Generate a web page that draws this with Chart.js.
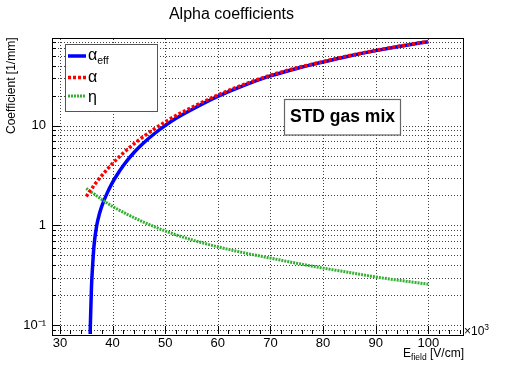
<!DOCTYPE html>
<html>
<head>
<meta charset="utf-8">
<script src="https://cdn.jsdelivr.net/npm/chart.js@4.4.1/dist/chart.umd.min.js"></script>
<style>
html,body{margin:0;padding:0;background:#fff;}
#wrap{position:relative;width:515px;height:372px;}
</style>
</head>
<body>
<div id="wrap"><canvas id="c" width="515" height="372"></canvas></div>
<script>
// ---- data ----
const efield   = [35, 35.5, 35.65, 35.75, 35.85, 36, 36.25, 36.5, 37, 37.5, 38, 39, 40, 41, 42, 43, 44, 45, 46, 48, 50, 52, 55, 60, 65, 70, 75, 80, 85, 90, 95, 100];
const alphaEff = [null, null, 0.03, 0.08, 0.13, 0.24, 0.42, 0.64, 1.0, 1.3, 1.58, 2.12, 2.7, 3.3, 3.94, 4.62, 5.33, 6.05, 6.8, 8.36, 10.02, 11.8, 14.48, 19.69, 25.47, 31.63, 37.58, 43.63, 50.16, 56.7, 63.22, 69.74];
const alpha    = [1.95, 2.13, 2.19, 2.22, 2.26, 2.32, 2.42, 2.53, 2.74, 2.96, 3.18, 3.66, 4.18, 4.72, 5.3, 5.9, 6.53, 7.18, 7.87, 9.33, 10.9, 12.6, 15.2, 20.3, 26.0, 32.1, 38.0, 44.0, 50.5, 57.0, 63.5, 70.0];
const eta      = [2.35, 2.25, 2.22, 2.2, 2.18, 2.15, 2.11, 2.07, 1.98, 1.895, 1.815, 1.675, 1.55, 1.449, 1.358, 1.276, 1.202, 1.135, 1.074, 0.968, 0.879, 0.807, 0.719, 0.61, 0.531, 0.47, 0.417, 0.373, 0.337, 0.304, 0.279, 0.257];
const xTicks = [30, 40, 50, 60, 70, 80, 90, 100];
const xMinorTicks = [28, 32, 34, 36, 38, 42, 44, 46, 48, 52, 54, 56, 58, 62, 64, 66, 68, 72, 74, 76, 78, 82, 84, 86, 88, 92, 94, 96, 98, 102, 104, 106];
const yTicks = [0.09, 0.1, 0.2, 0.3, 0.4, 0.5, 0.6, 0.7, 0.8, 0.9, 1, 2, 3, 4, 5, 6, 7, 8, 9, 10, 20, 30, 40, 50, 60, 70];
const yMajor = [0.1, 1, 10];
const yLabels = {'0.1': '10\u207B\u00B9', '1': '1', '10': '10'};

const FONT = "'Liberation Sans', Arial, Helvetica, sans-serif";
Chart.defaults.font.family = FONT;
Chart.defaults.color = '#000';

function pts(ys) {
  const out = [];
  for (let i = 0; i < efield.length; i++) if (ys[i] !== null) out.push({x: efield[i], y: ys[i]});
  return out;
}

const decor = {
  id: 'decor',
  beforeDatasetsDraw(chart) {
    const ctx = chart.ctx, a = chart.chartArea;
    const xs = chart.scales.x, ys = chart.scales.y;
    ctx.save();
    ctx.strokeStyle = 'rgba(0,0,0,0.75)';
    ctx.lineWidth = 1;
    ctx.setLineDash([1, 2]);
    ctx.beginPath();
    xTicks.forEach(v => { const p = Math.round(xs.getPixelForValue(v)) + 0.5; ctx.moveTo(p, a.bottom); ctx.lineTo(p, a.top); });
    yTicks.forEach(v => { const p = Math.round(ys.getPixelForValue(v)) + 0.5; ctx.moveTo(a.left, p); ctx.lineTo(a.right, p); });
    ctx.stroke();
    ctx.restore();
  },
  afterDatasetsDraw(chart) {
    const ctx = chart.ctx, a = chart.chartArea;
    const xs = chart.scales.x, ys = chart.scales.y;
    ctx.save();
    ctx.strokeStyle = '#000';
    ctx.lineWidth = 1;
    ctx.beginPath();
    xTicks.forEach(v => { const p = Math.round(xs.getPixelForValue(v)) + 0.5; ctx.moveTo(p, a.bottom); ctx.lineTo(p, a.bottom - 8); });
    xMinorTicks.forEach(v => { if (v < xs.min || v > xs.max) return; const p = Math.round(xs.getPixelForValue(v)) + 0.5; ctx.moveTo(p, a.bottom); ctx.lineTo(p, a.bottom - 4); });
    yTicks.forEach(v => {
      const p = Math.round(ys.getPixelForValue(v)) + 0.5;
      const len = yMajor.some(m => Math.abs(m - v) < 1e-9) ? 8 : 4;
      ctx.moveTo(a.left, p); ctx.lineTo(a.left + len, p);
    });
    ctx.stroke();
    ctx.strokeRect(Math.round(a.left) + 0.5, Math.round(a.top) + 0.5, Math.round(a.right - a.left), Math.round(a.bottom - a.top));
    ctx.restore();
  },
  afterDraw(chart) {
    const ctx = chart.ctx, a = chart.chartArea;
    ctx.save();
    ctx.fillStyle = '#000';
    // y axis title
    ctx.save();
    ctx.translate(12, a.top);
    ctx.rotate(-Math.PI / 2);
    ctx.font = '12px ' + FONT;
    ctx.textAlign = 'right';
    ctx.textBaseline = 'middle';
    ctx.fillText('Coefficient [1/mm]', 0, 0);
    ctx.restore();
    // x axis title E_field [V/cm], right aligned
    const bigF = '12px ' + FONT, subF = '8.5px ' + FONT;
    ctx.font = bigF; const wE = ctx.measureText('E').width, wU = ctx.measureText(' [V/cm]').width;
    ctx.font = subF; const wS = ctx.measureText('field').width;
    const xr = 464, base = 357;
    const x0 = xr - wU - wS - wE;
    ctx.textAlign = 'left'; ctx.textBaseline = 'alphabetic';
    ctx.font = bigF; ctx.fillText('E', x0, base);
    ctx.font = subF; ctx.fillText('field', x0 + wE, base + 3);
    ctx.font = bigF; ctx.fillText(' [V/cm]', x0 + wE + wS, base);
    // x10^3
    ctx.font = '12px ' + FONT; ctx.fillText('\u00D710', 464, 335);
    const w10 = ctx.measureText('\u00D710').width;
    ctx.font = '8.5px ' + FONT; ctx.fillText('3', 464 + w10, 330);

    // legend box
    ctx.fillStyle = '#fff';
    ctx.fillRect(65.5, 44.5, 92, 67);
    ctx.strokeStyle = '#555'; ctx.lineWidth = 1;
    ctx.strokeRect(65.5, 44.5, 92, 67);
    const rows = [
      {y: 56, color: '#0000ff', dash: [], w: 3.5},
      {y: 77.5, color: '#ff0000', dash: [3, 2], w: 3.5},
      {y: 96, color: '#33b033', dash: [2, 1], w: 3}
    ];
    rows.forEach(r => {
      ctx.beginPath(); ctx.setLineDash(r.dash); ctx.strokeStyle = r.color; ctx.lineWidth = r.w;
      ctx.moveTo(68, r.y); ctx.lineTo(86, r.y); ctx.stroke();
    });
    ctx.setLineDash([]);
    ctx.fillStyle = '#000';
    ctx.textBaseline = 'alphabetic'; ctx.textAlign = 'left';
    ctx.font = '16px ' + FONT;
    ctx.fillText('\u03B1', 88, 60);
    const wa = ctx.measureText('\u03B1').width;
    ctx.font = '10.5px ' + FONT; ctx.fillText('eff', 88 + wa, 64);
    ctx.font = '16px ' + FONT;
    ctx.fillText('\u03B1', 88, 82);
    ctx.fillText('\u03B7', 88, 102);

    // STD gas mix box
    ctx.fillStyle = '#fff';
    ctx.fillRect(284.5, 99.5, 116, 35.5);
    ctx.strokeStyle = '#666'; ctx.lineWidth = 1.2;
    ctx.strokeRect(284.5, 99.5, 116, 35.5);
    ctx.fillStyle = '#000';
    ctx.font = 'bold 17.5px ' + FONT;
    ctx.textAlign = 'center'; ctx.textBaseline = 'middle';
    ctx.fillText('STD gas mix', 342.5, 117.5);
    ctx.restore();
  }
};

new Chart(document.getElementById('c'), {
  type: 'line',
  data: {
    datasets: [
      {label: '\u03B1', data: pts(alpha), borderColor: '#ff0000', borderWidth: 3.5, borderDash: [3, 2], pointRadius: 0, fill: false, cubicInterpolationMode: 'monotone', order: 0, clip: 0},
      {label: '\u03B7', data: pts(eta), borderColor: '#33b033', borderWidth: 3, borderDash: [2, 1], pointRadius: 0, fill: false, cubicInterpolationMode: 'monotone', order: 1, clip: 0},
      {label: '\u03B1eff', data: pts(alphaEff), borderColor: '#0000ff', borderWidth: 3.5, pointRadius: 0, fill: false, cubicInterpolationMode: 'monotone', order: 2, clip: 0}
    ]
  },
  options: {
    responsive: false,
    animation: false,
    layout: {padding: {left: 0, right: 52, top: 0, bottom: 0}},
    plugins: {
      legend: {display: false},
      tooltip: {enabled: false},
      title: {display: true, text: 'Alpha coefficients', font: {size: 16, weight: 'normal', family: FONT}, color: '#000', padding: {top: 5, bottom: 13.3}}
    },
    scales: {
      x: {
        type: 'linear', min: 28.5, max: 106.6, bounds: 'data',
        afterBuildTicks: s => { s.ticks = xTicks.map(v => ({value: v})); },
        afterFit: s => { s.height = 38; },
        ticks: {autoSkip: false, maxRotation: 0, padding: 1.5, font: {size: 13}, color: '#000', callback: v => String(v)},
        grid: {display: false, drawTicks: false},
        border: {display: false}
      },
      y: {
        type: 'logarithmic', min: 0.0814, max: 76.8, bounds: 'data',
        afterBuildTicks: s => { s.ticks = yTicks.map(v => ({value: v, major: false})); },
        afterFit: s => { s.width = 52; },
        ticks: {autoSkip: false, padding: 6, font: {size: 13}, color: '#000',
          callback: v => { for (const k in yLabels) { if (Math.abs(parseFloat(k) - v) < 1e-9) return yLabels[k]; } return ''; }},
        grid: {display: false, drawTicks: false},
        border: {display: false}
      }
    }
  },
  plugins: [decor]
});
</script>
</body>
</html>
